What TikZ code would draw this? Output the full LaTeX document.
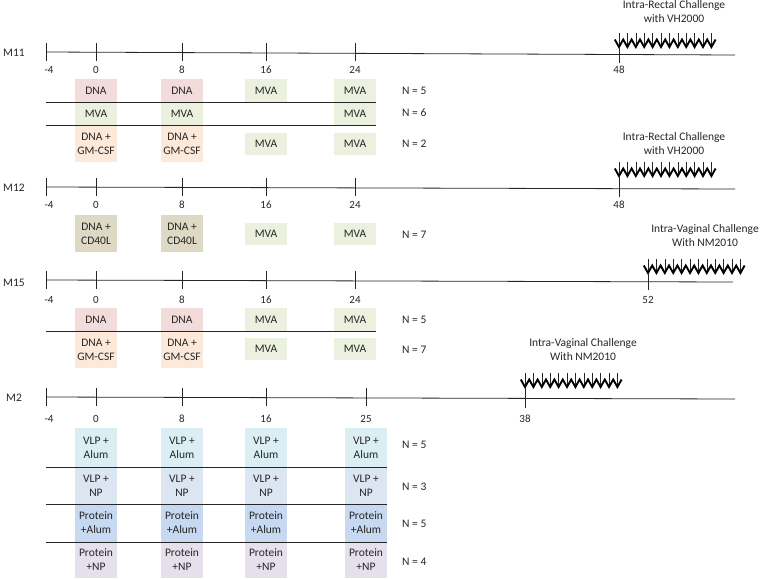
\documentclass[tikz,border=0pt]{standalone}
\usepackage{fontspec}
\setmainfont{Carlito}
\definecolor{cdna}{HTML}{F2DCDB}
\definecolor{cmva}{HTML}{EBF1DE}
\definecolor{cgm}{HTML}{FDE9D9}
\definecolor{ccd}{HTML}{DDD9C4}
\definecolor{cva}{HTML}{DAEEF3}
\definecolor{cvn}{HTML}{DCE6F2}
\definecolor{cpa}{HTML}{C6D9F1}
\definecolor{cpn}{HTML}{E5E0EC}
\definecolor{lnc}{HTML}{262626}
\newcommand{\bx}[6]{\node[vbox, fill=#5, minimum height={(#4-#3)*1pt}] (#1) at (#2,{(#3+#4)/2}) {#6};}
\newcommand{\chal}[2]{%
  \foreach \i in {0,...,11} {\draw[lnc, line width=0.6pt] ({#1+\i*8.4},{#2}) -- ({#1+\i*8.4},{#2+14});}
  \draw[black, line width=1.9pt, line join=miter, miter limit=4] ({#1-4.2},{#2+6.5})
    \foreach \i in {0,...,11} { -- ({#1+\i*8.4},{#2+14}) -- ({#1+\i*8.4+4.2},{#2+6.5}) };
}
\begin{document}
\begin{tikzpicture}[x=1pt,y=-1pt,
  txt/.style={font=\fontsize{11.5}{14}\selectfont, inner sep=0pt, align=center, text=black!85},
  tck/.style={font=\fontsize{11}{13}\selectfont, inner sep=0pt, align=center, text=black!85},
  vbox/.style={txt, minimum width=42pt},
  tl/.style={lnc, line width=0.8pt},
  sep/.style={lnc, line width=0.8pt},
  tk/.style={lnc, line width=0.8pt}]
\useasboundingbox (0,0) rectangle (760,579);

% ---------------- M11 ----------------
\node[txt, anchor=west] (m11) at (3,53) {M11};
\coordinate (a1) at (46,52); \coordinate (b1) at (735,55);
\draw[tl] (a1) -- (b1);
\foreach \x/\l in {46/-4,96/0,182/8,266/16,355/24} {
  \draw[tk] (\x,43) -- (\x,61);
  \node[tck] (l11\l) at ({\x+(\x==46?3:0)},70) {\l};
}
\node[txt] (ch11) at (674,11.5) {Intra-Rectal Challenge\\with VH2000};
\chal{619}{33}
\draw[tk] (619,47) -- (619,63);
\node[tck] (l1148) at (619,70) {48};
\bx{r1a}{96}{79}{102}{cdna}{DNA}
\bx{r1b}{182}{79}{102}{cdna}{DNA}
\bx{r1c}{266}{79}{102}{cmva}{MVA}
\bx{r1d}{355}{79}{102}{cmva}{MVA}
\bx{r2a}{96}{102}{125}{cmva}{MVA}
\bx{r2b}{182}{102}{125}{cmva}{MVA}
\bx{r2d}{355}{102}{125}{cmva}{MVA}
\bx{r3a}{96}{125}{162}{cgm}{DNA +\\GM-CSF}
\bx{r3b}{182}{125}{162}{cgm}{DNA +\\GM-CSF}
\bx{r3c}{266}{133}{155}{cmva}{MVA}
\bx{r3d}{355}{133}{155}{cmva}{MVA}
\coordinate (s1a) at (46,102); \coordinate (s1b) at (376,102);
\coordinate (s2a) at (46,125); \coordinate (s2b) at (376,125);
\draw[sep] (s1a) -- (s1b);
\draw[sep] (s2a) -- (s2b);
\node[txt, anchor=west] (n11a) at (402,91) {N = 5};
\node[txt, anchor=west] (n11b) at (402,113) {N = 6};
\node[txt, anchor=west] (n11c) at (402,144) {N = 2};

% ---------------- M12 ----------------
\node[txt, anchor=west] (m12) at (3,188) {M12};
\coordinate (a2) at (46,187); \coordinate (b2) at (735,189);
\draw[tl] (a2) -- (b2);
\foreach \x/\l in {46/-4,96/0,182/8,266/16,355/24} {
  \draw[tk] (\x,178) -- (\x,196);
  \node[tck] (l12\l) at ({\x+(\x==46?3:0)},205) {\l};
}
\node[txt] (ch12) at (674,144) {Intra-Rectal Challenge\\with VH2000};
\chal{619}{162}
\draw[tk] (619,176) -- (619,197);
\node[tck] (l1248) at (619,205) {48};
\bx{q1a}{96}{215}{252}{ccd}{DNA +\\CD40L}
\bx{q1b}{182}{215}{252}{ccd}{DNA +\\CD40L}
\bx{q1c}{266}{223}{245}{cmva}{MVA}
\bx{q1d}{355}{223}{245}{cmva}{MVA}
\node[txt, anchor=west] (n12a) at (402,235) {N = 7};

% ---------------- M15 ----------------
\node[txt, anchor=west] (m15) at (3,283) {M15};
\coordinate (a3) at (46,280); \coordinate (b3) at (733,282);
\draw[tl] (a3) -- (b3);
\foreach \x/\l in {46/-4,96/0,182/8,266/16,355/24} {
  \draw[tk] (\x,271) -- (\x,289);
  \node[tck] (l15\l) at ({\x+(\x==46?3:0)},300) {\l};
}
\node[txt] (ch15) at (705,235.5) {Intra-Vaginal Challenge\\With NM2010};
\chal{648}{259}
\draw[tk] (648,273) -- (648,290);
\node[tck] (l1552) at (648,300) {52};
\bx{p1a}{96}{308}{331}{cdna}{DNA}
\bx{p1b}{182}{308}{331}{cdna}{DNA}
\bx{p1c}{266}{308}{331}{cmva}{MVA}
\bx{p1d}{355}{308}{331}{cmva}{MVA}
\bx{p2a}{96}{331}{368}{cgm}{DNA +\\GM-CSF}
\bx{p2b}{182}{331}{368}{cgm}{DNA +\\GM-CSF}
\bx{p2c}{266}{338}{360}{cmva}{MVA}
\bx{p2d}{355}{338}{360}{cmva}{MVA}
\coordinate (s3a) at (46,331); \coordinate (s3b) at (376,331);
\draw[sep] (s3a) -- (s3b);
\node[txt, anchor=west] (n15a) at (402,320) {N = 5};
\node[txt, anchor=west] (n15b) at (402,350) {N = 7};

% ---------------- M2 ----------------
\node[txt, anchor=west] (m2) at (6,398) {M2};
\coordinate (a4) at (46,397); \coordinate (b4) at (735,399);
\draw[tl] (a4) -- (b4);
\foreach \x/\l in {46/-4,96/0,182/8,266/16,366/25} {
  \draw[tk] (\x,388) -- (\x,406);
  \node[tck] (l2\l) at ({\x+(\x==46?3:0)},419) {\l};
}
\node[txt] (ch2) at (583,350) {Intra-Vaginal Challenge\\With NM2010};
\chal{525}{373}
\draw[tk] (525,387) -- (525,408);
\node[tck] (l238) at (525,419) {38};
\foreach \x/\k in {96/a,182/b,266/c,366/d} {
  \bx{v1\k}{\x}{428}{467}{cva}{VLP +\\Alum}
  \bx{v2\k}{\x}{467}{504}{cvn}{VLP +\\NP}
  \bx{v3\k}{\x}{504}{542}{cpa}{Protein\\+Alum}
  \bx{v4\k}{\x}{542}{578}{cpn}{Protein\\+NP}
}
\coordinate (s4a) at (46,467); \coordinate (s4b) at (387,467);
\coordinate (s5a) at (46,504); \coordinate (s5b) at (387,504);
\coordinate (s6a) at (46,542); \coordinate (s6b) at (387,542);
\draw[sep] (s4a) -- (s4b);
\draw[sep] (s5a) -- (s5b);
\draw[sep] (s6a) -- (s6b);
\node[txt, anchor=west] (n2a) at (402,445) {N = 5};
\node[txt, anchor=west] (n2b) at (402,487) {N = 3};
\node[txt, anchor=west] (n2c) at (402,524) {N = 5};
\node[txt, anchor=west] (n2d) at (402,562) {N = 4};
\end{tikzpicture}
\end{document}
